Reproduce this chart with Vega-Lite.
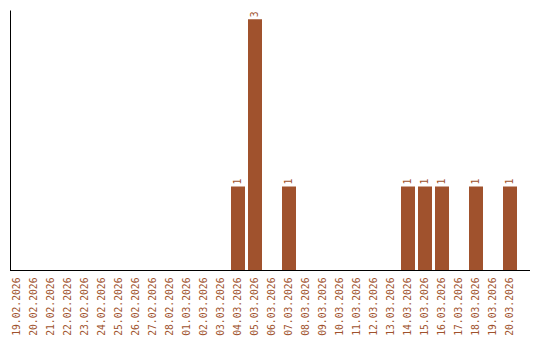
{
  "$schema": "https://vega.github.io/schema/vega-lite/v6.json",
  "autosize": "none",
  "padding": {"left": 10, "top": 10, "right": 10, "bottom": 70},
  "width": 520,
  "height": 260,
  "background": "white",
  "config": {"view": {"stroke": null}},
  "data": {"values": [
    {"date": "19.02.2026", "count": 0},
    {"date": "20.02.2026", "count": 0},
    {"date": "21.02.2026", "count": 0},
    {"date": "22.02.2026", "count": 0},
    {"date": "23.02.2026", "count": 0},
    {"date": "24.02.2026", "count": 0},
    {"date": "25.02.2026", "count": 0},
    {"date": "26.02.2026", "count": 0},
    {"date": "27.02.2026", "count": 0},
    {"date": "28.02.2026", "count": 0},
    {"date": "01.03.2026", "count": 0},
    {"date": "02.03.2026", "count": 0},
    {"date": "03.03.2026", "count": 0},
    {"date": "04.03.2026", "count": 1},
    {"date": "05.03.2026", "count": 3},
    {"date": "06.03.2026", "count": 0},
    {"date": "07.03.2026", "count": 1},
    {"date": "08.03.2026", "count": 0},
    {"date": "09.03.2026", "count": 0},
    {"date": "10.03.2026", "count": 0},
    {"date": "11.03.2026", "count": 0},
    {"date": "12.03.2026", "count": 0},
    {"date": "13.03.2026", "count": 0},
    {"date": "14.03.2026", "count": 1},
    {"date": "15.03.2026", "count": 1},
    {"date": "16.03.2026", "count": 1},
    {"date": "17.03.2026", "count": 0},
    {"date": "18.03.2026", "count": 1},
    {"date": "19.03.2026", "count": 0},
    {"date": "20.03.2026", "count": 1}
  ]},
  "encoding": {
    "x": {
      "field": "date", "type": "nominal", "sort": null, "title": null,
      "scale": {"range": [0, 507], "paddingInner": 0.1765, "paddingOuter": 0},
      "axis": {"domain": false, "ticks": false, "labelAngle": 270, "labelColor": "#A0522D", "labelFont": "DejaVu Sans Mono", "labelFontSize": 9.7, "labelPadding": 7}
    },
    "y": {
      "field": "count", "type": "quantitative", "title": null,
      "scale": {"domain": [0, 3.11], "nice": false, "zero": true},
      "axis": {"domain": true, "domainColor": "black", "ticks": false, "labels": false, "grid": false}
    }
  },
  "layer": [
    {"mark": {"type": "bar", "color": "#A0522D"}},
    {
      "transform": [{"filter": "datum.count > 0"}],
      "mark": {"type": "text", "angle": 270, "align": "left", "baseline": "middle", "dx": 2, "color": "#A0522D", "font": "DejaVu Sans Mono", "fontSize": 9.7},
      "encoding": {"text": {"field": "count", "type": "quantitative"}}
    },
    {
      "mark": {"type": "rule", "color": "black", "strokeWidth": 1, "yOffset": 0.5},
      "encoding": {"x": null, "y": {"datum": 0}}
    }
  ]
}
